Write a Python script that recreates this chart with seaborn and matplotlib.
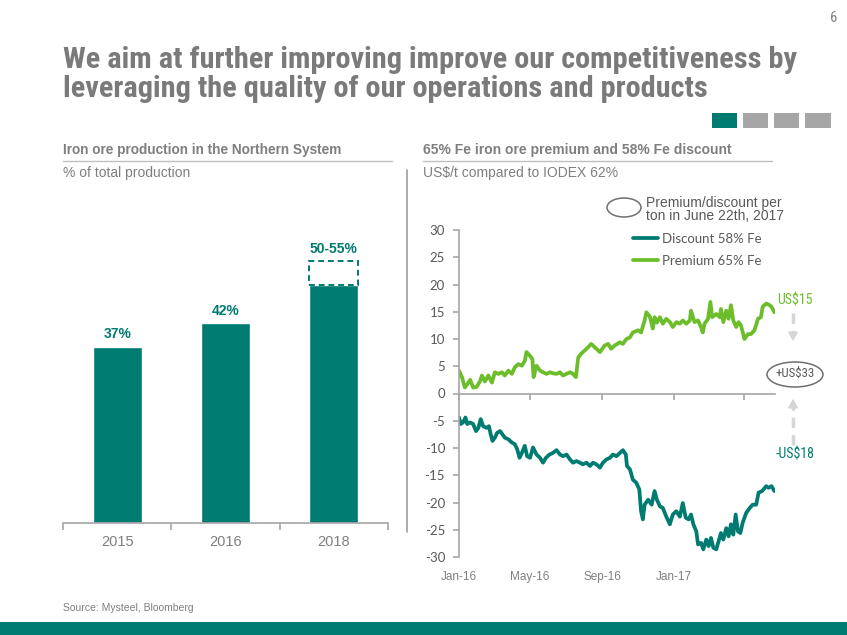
import numpy as np
import pandas as pd
import matplotlib
matplotlib.use("Agg")
import matplotlib.pyplot as plt
import matplotlib.font_manager as fm
from matplotlib.patches import Rectangle, Ellipse, FancyArrowPatch
from matplotlib.lines import Line2D
import seaborn as sns

# ---------------- data ----------------
years = ["2015", "2016", "2018"]
shares = [37, 42, 50]
bar_labels = ["37%", "42%", "50-55%"]
range_year = "2018"
range_low = 50
range_high = 55

start_date = "2016-01-01"
end_date = "2017-06-22"

premium_days = [0, 5, 10, 16, 19, 24, 30, 36, 39, 44, 50, 56, 61, 67, 73, 78, 84, 90, 95, 101,
                107, 112, 115, 121, 125, 127, 132, 138, 143, 149, 155, 160, 166, 172, 177, 183, 189, 194, 199, 203,
                208, 214, 220, 225, 231, 240, 248, 254, 259, 265, 274, 279, 285, 291, 296, 305, 310, 316, 319, 325,
                330, 333, 337, 342, 347, 353, 359, 364, 370, 376, 381, 387, 393, 395, 401, 407, 412, 415, 418, 424,
                428, 431, 438, 444, 446, 450, 455, 459, 463, 467, 472, 476, 480, 486, 492, 497, 503, 509, 514, 517,
                523, 529, 532, 537]
premium_vals = [4.2, 3.0, 1.1, 2.0, 2.5, 1.1, 1.2, 2.3, 3.3, 2.2, 3.3, 2.0, 3.9, 3.6, 3.9, 3.3, 4.2, 3.6, 4.8, 5.4,
                5.1, 6.0, 7.6, 6.9, 6.3, 3.0, 5.1, 4.2, 3.9, 3.6, 3.9, 3.7, 3.6, 3.9, 3.3, 3.6, 3.9, 3.6, 3.0, 6.6,
                7.3, 7.9, 8.5, 9.1, 8.5, 7.6, 8.8, 9.1, 8.2, 8.8, 9.4, 9.1, 10.0, 10.3, 11.2, 11.6, 11.2, 13.4, 14.9, 14.1,
                11.9, 14.0, 13.0, 14.0, 12.8, 13.7, 13.1, 12.2, 13.1, 12.8, 13.4, 12.8, 13.4, 15.2, 13.1, 13.4, 12.2, 11.2, 12.8, 13.7,
                16.8, 14.0, 14.6, 14.0, 15.5, 13.1, 15.2, 13.7, 16.2, 13.4, 12.2, 13.1, 12.5, 10.0, 10.9, 10.9, 11.6, 13.7, 14.0, 15.9,
                16.5, 16.2, 15.9, 14.9]

discount_days = [0, 3, 7, 11, 14, 19, 24, 29, 33, 37, 41, 47, 51, 54, 57, 61, 65, 70, 74, 78,
                 84, 90, 95, 99, 103, 107, 112, 116, 121, 126, 132, 138, 143, 148, 154, 160, 166, 172, 177, 183,
                 189, 194, 200, 206, 211, 217, 223, 228, 234, 240, 245, 251, 257, 262, 268, 274, 279, 284, 286, 291,
                 296, 302, 307, 310, 313, 316, 322, 328, 333, 337, 342, 347, 353, 359, 364, 370, 376, 381, 386, 391,
                 395, 399, 404, 407, 412, 416, 421, 425, 429, 433, 438, 442, 446, 450, 455, 459, 463, 467, 471, 475,
                 479, 483, 489, 495, 500, 506, 510, 516, 523, 527, 532, 537]
discount_vals = [-4.4, -5.6, -5.3, -4.4, -5.6, -5.3, -5.6, -6.9, -6.3, -4.7, -6.0, -6.3, -6.0, -7.5, -8.7, -8.1, -7.2, -6.9, -7.5, -8.1,
                 -8.4, -9.0, -9.3, -10.2, -11.8, -10.9, -9.6, -11.5, -11.8, -9.9, -11.2, -11.8, -12.7, -11.8, -11.2, -10.9, -10.4, -11.2, -11.5, -11.2,
                 -12.1, -12.7, -12.4, -12.7, -13.0, -12.7, -13.3, -12.7, -13.0, -13.6, -12.7, -12.1, -11.8, -11.2, -11.5, -10.9, -10.4, -11.2, -13.3, -13.9,
                 -15.8, -16.4, -17.6, -21.6, -23.1, -20.4, -19.5, -20.4, -17.9, -19.5, -20.7, -21.0, -22.6, -24.0, -22.2, -21.6, -22.6, -20.1, -22.8, -23.1,
                 -22.2, -24.0, -25.3, -27.7, -27.4, -28.6, -26.8, -28.0, -26.5, -28.3, -28.6, -27.1, -25.6, -26.8, -24.7, -26.2, -24.0, -25.9, -22.2, -25.3,
                 -25.6, -23.7, -21.9, -21.0, -20.4, -20.4, -18.2, -17.9, -17.0, -17.3, -17.0, -17.9]

date_ticks = ["2016-01-01", "2016-05-01", "2016-09-01", "2017-01-01", "2017-05-01"]
date_tick_labels = ["Jan-16", "May-16", "Sep-16", "Jan-17", ""]
y_ticks = [30, 25, 20, 15, 10, 5, 0, -5, -10, -15, -20, -25, -30]

series_names = ["Discount 58% Fe", "Premium 65% Fe"]

title_lines = ["We aim at further improving improve our competitiveness by",
               "leveraging the quality of our operations and products"]

# ---------------- style ----------------
sns.set_theme(style="white")
names = {f.name for f in fm.fontManager.ttflist}
SANS = "Liberation Sans" if "Liberation Sans" in names else "DejaVu Sans"
NARROW = SANS
for cand in ["Liberation Sans Narrow", "Arial Narrow", "Roboto Condensed", "Open Sans Condensed",
             "Nimbus Sans Narrow", "DejaVu Sans Condensed"]:
    if cand in names:
        NARROW = cand
        break
HUMAN = "Lato" if "Lato" in names else SANS
plt.rcParams["font.family"] = [SANS, "DejaVu Sans"]

TEAL = "#007B71"
GREEN = "#6CBD2A"
GREY = "#7F7F7F"
DARK = "#595959"
LINEG = "#A6A6A6"

W, H = 847, 635
fig = plt.figure(figsize=(W / 100, H / 100), dpi=100)


def fx(px):
    return px / W


def fy(py):
    return 1 - py / H


# ---------------- title ----------------
title_objs = []
for line, base in zip(title_lines, [68, 97]):
    t = fig.text(fx(63), fy(base), line, fontsize=20, weight="bold", color="#7A7A7A",
                 family=[NARROW, "DejaVu Sans"], va="baseline", ha="left")
    title_objs.append(t)
fig.canvas.draw()
r = fig.canvas.get_renderer()
w1 = title_objs[0].get_window_extent(r).width
scale = min((794 - 63) / w1, 1.12)
for t in title_objs:
    t.set_fontsize(20 * scale)

fig.text(fx(834), fy(18), "6", fontsize=10.5, color=GREY, ha="center", va="center",
         family=[NARROW, "DejaVu Sans"])

# squares
for x0, x1, c in [(712, 737, TEAL), (743, 768, LINEG), (774, 799, LINEG), (805, 831, LINEG)]:
    fig.add_artist(Rectangle((fx(x0), fy(128)), fx(x1) - fx(x0), fy(113) - fy(128),
                             transform=fig.transFigure, facecolor=c, edgecolor="none"))

# section headers
fig.text(fx(63), fy(150), "Iron ore production in the Northern System", fontsize=9.8, weight="bold",
         color=GREY, va="center", ha="left")
fig.add_artist(Line2D([fx(63), fx(392)], [fy(161), fy(161)], transform=fig.transFigure, color="#BFBFBF", lw=1))
fig.text(fx(63), fy(173), "% of total production", fontsize=10, color=GREY, va="center", ha="left")

fig.text(fx(423), fy(150), "65% Fe iron ore premium and 58% Fe discount", fontsize=10, weight="bold",
         color=GREY, va="center", ha="left")
fig.add_artist(Line2D([fx(423), fx(772)], [fy(161), fy(161)], transform=fig.transFigure, color="#BFBFBF", lw=1))
fig.text(fx(423), fy(173), "US$/t compared to IODEX 62%", fontsize=10, color=GREY, va="center", ha="left")

# separator
fig.add_artist(Line2D([fx(407), fx(407)], [fy(170), fy(532)], transform=fig.transFigure, color=LINEG, lw=1.3))

# ---------------- left: bar chart ----------------
ax1 = fig.add_axes([fx(63), fy(523), fx(388) - fx(63), (523 - 200) / H])
sns.barplot(x=years, y=shares, color=TEAL, width=0.45, saturation=1, ax=ax1)
idx = years.index(range_year)
ax1.bar(idx, range_high - range_low, bottom=range_low, width=0.45, fill=False,
        edgecolor=TEAL, linestyle=(0, (3, 2)), linewidth=1.4)
ax1.set_xlim(-0.5, len(years) - 0.5)
ax1.set_ylim(0, 67.9)
for i, (v, lab) in enumerate(zip(shares, bar_labels)):
    top = range_high if years[i] == range_year else v
    ax1.annotate(lab, (i, top), xytext=(0, 4), textcoords="offset points", ha="center", va="bottom",
                 fontsize=10, weight="bold", color=TEAL)
for s in ["left", "top", "right"]:
    ax1.spines[s].set_visible(False)
ax1.spines["bottom"].set_color(LINEG)
ax1.spines["bottom"].set_linewidth(1.2)
ax1.set_yticks([])
ax1.set_xticks(np.arange(len(years) + 1) - 0.5, minor=True)
ax1.tick_params(axis="x", which="minor", length=5, width=1.2, color=LINEG, direction="out", bottom=True)
ax1.tick_params(axis="x", which="major", length=0, pad=9, labelsize=10.5, labelcolor=GREY)
ax1.set_xlabel("")
ax1.set_ylabel("")
ax1.set_facecolor("none")

# ---------------- right: line chart ----------------
ax2 = fig.add_axes([fx(459), fy(557), fx(775) - fx(459), (557 - 230) / H])
t0 = pd.Timestamp(start_date)
dfp = pd.DataFrame({"date": t0 + pd.to_timedelta(premium_days, unit="D"), "value": premium_vals})
dfd = pd.DataFrame({"date": t0 + pd.to_timedelta(discount_days, unit="D"), "value": discount_vals})
sns.lineplot(data=dfd, x="date", y="value", color=TEAL, lw=2.7, ax=ax2, label=series_names[0])
sns.lineplot(data=dfp, x="date", y="value", color=GREEN, lw=2.7, ax=ax2, label=series_names[1])
ax2.set_xlim(pd.Timestamp(start_date), pd.Timestamp(end_date))
ax2.set_ylim(-30, 30)
ax2.set_yticks(y_ticks)
ax2.set_yticklabels([str(v) for v in y_ticks], family=[HUMAN, "DejaVu Sans"])
ax2.set_xticks(pd.to_datetime(date_ticks))
ax2.set_xticklabels(date_tick_labels)
ax2.spines["top"].set_visible(False)
ax2.spines["right"].set_visible(False)
ax2.spines["left"].set_color(LINEG)
ax2.spines["left"].set_linewidth(1.2)
ax2.spines["bottom"].set_position(("data", 0))
ax2.spines["bottom"].set_color(LINEG)
ax2.spines["bottom"].set_linewidth(1.2)
ax2.tick_params(axis="y", length=4, width=1.2, color=LINEG, direction="out", pad=6,
                labelsize=9.5, labelcolor=DARK, left=True)
ax2.tick_params(axis="x", length=4, width=1.2, color=LINEG, direction="out", pad=124,
                labelsize=8.5, labelcolor=GREY, bottom=True)
ax2.set_xlabel("")
ax2.set_ylabel("")
ax2.set_facecolor("none")
leg = ax2.legend(loc="upper left", bbox_to_anchor=(fx(633), fy(233)), bbox_transform=fig.transFigure,
                 frameon=False, borderpad=0, borderaxespad=0, handlelength=1.9, handletextpad=0.3,
                 labelspacing=0.75, prop={"family": [HUMAN, "DejaVu Sans"], "size": 9.5})
for txt in leg.get_texts():
    txt.set_color(DARK)

# legend note with ellipse
fig.add_artist(Ellipse((fx(624), fy(207.5)), fx(34), 19 / H, transform=fig.transFigure,
                       fill=False, edgecolor="#6F6F6F", lw=1.1))
fig.text(fx(646), fy(203), "Premium/discount per", fontsize=10, color=DARK, va="center", ha="left")
fig.text(fx(646), fy(216), "ton in June 22th, 2017", fontsize=10, color=DARK, va="center", ha="left")

# annotations on the right
fig.text(fx(795), fy(300), "US$15", fontsize=10, color=GREEN, ha="center", va="center",
         family=[NARROW, "DejaVu Sans"])
fig.text(fx(795), fy(373), "+US$33", fontsize=9.3, color=DARK, ha="center", va="center",
         family=[NARROW, "DejaVu Sans"])
fig.add_artist(Ellipse((fx(795), fy(374.5)), fx(56), 25 / H, transform=fig.transFigure,
                       fill=False, edgecolor="#6F6F6F", lw=1.1))
fig.text(fx(795), fy(455), "-US$18", fontsize=10, color=TEAL, ha="center", va="center",
         family=[NARROW, "DejaVu Sans"])

ARROW = "#D6D6D6"
fig.add_artist(Line2D([fx(793), fx(793)], [fy(313), fy(337)], transform=fig.transFigure,
                      color=ARROW, lw=2.5, linestyle=(0, (3, 2))))
fig.add_artist(FancyArrowPatch((fx(793), fy(335)), (fx(793), fy(344)), transform=fig.transFigure,
                               arrowstyle="-|>,head_length=3.5,head_width=2", color=ARROW, lw=1.2,
                               mutation_scale=1.5))
fig.add_artist(Line2D([fx(793), fx(793)], [fy(445), fy(403)], transform=fig.transFigure,
                      color=ARROW, lw=2.5, linestyle=(0, (3, 2))))
fig.add_artist(FancyArrowPatch((fx(793), fy(405)), (fx(793), fy(396)), transform=fig.transFigure,
                               arrowstyle="-|>,head_length=3.5,head_width=2", color=ARROW, lw=1.2,
                               mutation_scale=1.5))

# footer
fig.text(fx(63), fy(608), "Source: Mysteel, Bloomberg", fontsize=7.5, color=GREY, va="center", ha="left")
fig.add_artist(Rectangle((0, 0), 1, fy(622), transform=fig.transFigure, facecolor=TEAL, edgecolor="none"))

fig.savefig("out.png", dpi=100)
